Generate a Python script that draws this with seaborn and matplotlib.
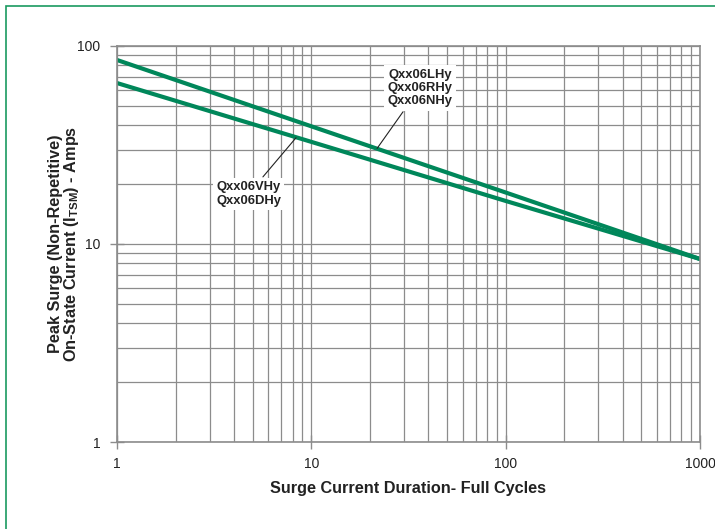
import numpy as np
import pandas as pd
import matplotlib
matplotlib.use("Agg")
import matplotlib.pyplot as plt
import matplotlib.ticker as mticker
from matplotlib.patches import Rectangle
import seaborn as sns

# Data
cycles = [1, 10, 100, 1000]
itsm_lh_rh_nh = [85, 39.3, 18.2, 8.4]
itsm_vh_dh = [65, 32.8, 16.5, 8.4]
series_names = ["Qxx06LHy\nQxx06RHy\nQxx06NHy", "Qxx06VHy\nQxx06DHy"]
x_ticks = [1, 10, 100, 1000]
x_tick_labels = ["1", "10", "100", "1000"]
y_ticks = [1, 10, 100]
y_tick_labels = ["1", "10", "100"]

df = pd.DataFrame({
    "cycles": cycles * 2,
    "itsm": itsm_lh_rh_nh + itsm_vh_dh,
    "series": [series_names[0]] * len(cycles) + [series_names[1]] * len(cycles),
})

sns.set_theme(style="white")
plt.rcParams["font.family"] = ["Liberation Sans", "DejaVu Sans"]

GREEN = "#00875a"
GRID = "#8c8c8c"
TXT = "#222222"

fig = plt.figure(figsize=(7.15, 5.29), dpi=100)
ax = fig.add_axes([117 / 715, 1 - 442 / 529, (700 - 117) / 715, (442 - 46) / 529])

sns.lineplot(data=df, x="cycles", y="itsm", hue="series",
             palette=[GREEN, GREEN], linewidth=3.0, legend=False, ax=ax)

ax.set_xscale("log")
ax.set_yscale("log")
ax.set_xlim(1, 1000)
ax.set_ylim(1, 100)
ax.set_xticks(x_ticks)
ax.set_xticklabels(x_tick_labels)
ax.set_yticks(y_ticks)
ax.set_yticklabels(y_tick_labels)
ax.xaxis.set_minor_locator(mticker.LogLocator(base=10, subs=np.arange(2, 10)))
ax.yaxis.set_minor_locator(mticker.LogLocator(base=10, subs=np.arange(2, 10)))
ax.xaxis.set_minor_formatter(mticker.NullFormatter())
ax.yaxis.set_minor_formatter(mticker.NullFormatter())
ax.grid(True, which="both", color=GRID, linewidth=0.9)
ax.set_axisbelow(True)
for s in ax.spines.values():
    s.set_color(GRID)
    s.set_linewidth(1.2)
ax.xaxis.set_ticks_position("bottom")
ax.yaxis.set_ticks_position("left")
ax.tick_params(axis="both", which="major", direction="inout", length=10, width=1,
               color=GRID, labelsize=10, labelcolor=TXT)
ax.tick_params(axis="x", which="major", pad=5.5)
ax.tick_params(axis="y", which="major", pad=7)
ax.tick_params(axis="both", which="minor", length=0)

ax.set_xlabel("Surge Current Duration- Full Cycles", fontsize=11.7, fontweight="bold",
              color=TXT)
ax.xaxis.set_label_coords(0.5, -39 / 396)
ax.set_ylabel("Peak Surge (Non-Repetitive)\nOn-State Current (I$_{\\mathregular{TSM}}$) - Amps",
              fontsize=11.7, fontweight="bold", color=TXT, linespacing=0.95)
ax.yaxis.set_label_coords(-36 / 583, 0.5)

# annotations
label_kw = dict(ha="center", va="center", fontsize=9.4, fontweight="bold",
                color=TXT, linespacing=1.16,
                bbox=dict(boxstyle="square,pad=0.25", fc="white", ec="none"),
                arrowprops=dict(arrowstyle="-", color=TXT, lw=0.8, shrinkA=1, shrinkB=0))
ax.annotate(series_names[0], xy=(21.8, 30.4), xytext=(36.2, 61.4), textcoords="data", **label_kw)
ax.annotate(series_names[1], xy=(8.34, 34.4), xytext=(4.75, 17.9), textcoords="data", **label_kw)

# green frame
fig.patches.append(Rectangle((6 / 715, -0.05), 2.0, 1 - 6 / 529 + 0.05,
                             transform=fig.transFigure, fill=False,
                             edgecolor="#1a9a60", linewidth=1.2))

fig.savefig("out.png", dpi=100)
